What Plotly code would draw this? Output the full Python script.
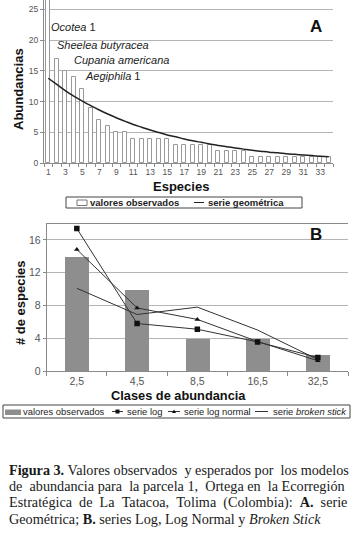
import plotly.graph_objects as go

# ---------------- data ----------------
# Panel A
species = [str(i) for i in range(1, 35)]
observed_A = [40, 17, 15, 14, 12, 9, 7, 6, 5, 5,
              4, 4, 4, 4, 4, 3, 3, 3, 3, 3,
              2, 2, 2, 2, 1, 1, 1, 1, 1, 1,
              1, 1, 1, 1]
geometric_A = [13.8, 12.8, 11.8, 10.9, 10.1, 9.35, 8.65, 8.0, 7.4, 6.85,
               6.3, 5.85, 5.4, 5.0, 4.6, 4.3, 3.95, 3.65, 3.4, 3.15,
               2.9, 2.7, 2.5, 2.3, 2.1, 1.95, 1.8, 1.7, 1.55, 1.45,
               1.35, 1.25, 1.15, 1.07]
tick_text_A = [s if int(s) % 2 == 1 else "" for s in species]

# Panel B
classes_B = ["2,5", "4,5", "8,5", "16,5", "32,5"]
observed_B = [14, 10, 4, 4, 2]
log_B = [17.4, 5.8, 5.1, 3.55, 1.65]
lognormal_B = [14.85, 7.7, 6.3, 3.6, 1.25]
brokenstick_B = [10.1, 6.9, 7.8, 5.0, 1.4]

W, H = 356, 539
FONT = "Liberation Sans, Arial, sans-serif"
SERIF = "Liberation Serif, Times New Roman, serif"


def X(px):
    return px / W


def Y(py):
    return 1 - py / H


fig = go.Figure()

# ---- Panel A traces ----
fig.add_trace(go.Bar(x=species, y=observed_A, width=0.5,
                     marker=dict(color="white", line=dict(color="#999999", width=1)),
                     name="valores observados", xaxis="x", yaxis="y", showlegend=False))
fig.add_trace(go.Scatter(x=species, y=geometric_A, mode="lines", line_shape="spline",
                         line=dict(color="#222222", width=1.5),
                         name="serie geométrica", xaxis="x", yaxis="y", showlegend=False))

# ---- Panel B traces ----
fig.add_trace(go.Bar(x=classes_B, y=observed_B, width=0.4,
                     marker=dict(color="#8e8e8e", line=dict(width=0)),
                     name="valores observados", xaxis="x2", yaxis="y2", showlegend=False))
fig.add_trace(go.Scatter(x=classes_B, y=brokenstick_B, mode="lines",
                         line=dict(color="#333333", width=1),
                         name="serie broken stick", xaxis="x2", yaxis="y2", showlegend=False))
fig.add_trace(go.Scatter(x=classes_B, y=lognormal_B, mode="lines+markers",
                         line=dict(color="#333333", width=1),
                         marker=dict(symbol="triangle-up", size=5, color="#111111"),
                         name="serie log normal", xaxis="x2", yaxis="y2", showlegend=False))
fig.add_trace(go.Scatter(x=classes_B, y=log_B, mode="lines+markers",
                         line=dict(color="#333333", width=1),
                         marker=dict(symbol="square", size=5.5, color="#111111"),
                         name="serie log", xaxis="x2", yaxis="y2", showlegend=False))

axis_gray = "#8a8a8a"
grid_gray = "#b4b4b4"
tick_gray = "#555555"

fig.update_layout(
    width=W, height=H,
    margin=dict(l=0, r=0, t=0, b=0, autoexpand=False),
    paper_bgcolor="white", plot_bgcolor="white",
    font=dict(family=FONT, color="#222222"),
    showlegend=False,
    bargap=0,
    xaxis=dict(domain=[X(44), X(333)], type="category", automargin=False,
               tickmode="array", tickvals=species, ticktext=tick_text_A, tickangle=0,
               tickson="boundaries", ticks="outside", ticklen=3, tickcolor=axis_gray,
               showline=True, linecolor=axis_gray, linewidth=1,
               showgrid=False, zeroline=False,
               tickfont=dict(size=8.5, color=tick_gray, family=FONT)),
    yaxis=dict(domain=[Y(163.3), 1.0], range=[0, 26.5], dtick=5, tick0=0, automargin=False,
               ticks="outside", ticklen=3, tickcolor=axis_gray,
               showline=True, linecolor=axis_gray, linewidth=1,
               showgrid=True, gridcolor=grid_gray, gridwidth=1, zeroline=False,
               tickfont=dict(size=8.5, color=tick_gray, family=FONT)),
    xaxis2=dict(domain=[X(46.7), X(348)], type="category", automargin=False, tickangle=0,
                tickson="boundaries", ticks="outside", ticklen=4, tickcolor=axis_gray,
                showline=True, linecolor=axis_gray, linewidth=1, mirror=True,
                showgrid=False, zeroline=False, anchor="y2",
                tickfont=dict(size=10.5, color=tick_gray, family=FONT)),
    yaxis2=dict(domain=[Y(371), Y(223.6)], range=[0, 18], dtick=4, tick0=0, automargin=False,
                ticks="outside", ticklen=3, tickcolor=axis_gray,
                showline=True, linecolor=axis_gray, linewidth=1,
                showgrid=True, gridcolor=grid_gray, gridwidth=1, zeroline=False,
                anchor="x2",
                tickfont=dict(size=10.5, color=tick_gray, family=FONT)),
)

ann = []


def text(px, py, s, size, xanchor="left", bold=False, italic=False, family=FONT,
         color="#222222", angle=0):
    if bold:
        s = "<b>" + s + "</b>"
    if italic:
        s = "<i>" + s + "</i>"
    ann.append(dict(x=X(px), y=Y(py), xref="paper", yref="paper", text=s,
                    showarrow=False, xanchor=xanchor, yanchor="middle",
                    textangle=angle, font=dict(size=size, family=family, color=color)))


# Panel A labels
text(316, 27, "A", 17, xanchor="center", bold=True, color="#111111")
text(49, 27, "<i>Ocotea</i> 1", 11)
text(55, 45, "<i>Sheelea butyracea</i>", 11)
text(72, 60, "<i>Cupania americana</i>", 11)
text(83, 76, "<i>Aegiphila</i> 1", 11)
text(180.5, 186, "Especies", 13, xanchor="center", bold=True, color="#111111")
text(18, 89, "Abundancias", 13, xanchor="center", bold=True, color="#111111", angle=-90)

# Panel B labels
text(316, 235, "B", 17, xanchor="center", bold=True, color="#111111")
text(178, 395, "Clases de abundancia", 12.8, xanchor="center", bold=True, color="#111111")
text(20, 303, "# de especies", 13, xanchor="center", bold=True, color="#111111", angle=-90)

shapes = []

# ---- Legend A (manual) ----
shapes.append(dict(type="rect", xref="paper", yref="paper",
                   x0=X(66), x1=X(302), y0=Y(208), y1=Y(197),
                   line=dict(color="#444444", width=1), fillcolor="rgba(0,0,0,0)"))
shapes.append(dict(type="rect", xref="paper", yref="paper",
                   x0=X(77), x1=X(87), y0=Y(205.5), y1=Y(200),
                   line=dict(color="#777777", width=1), fillcolor="white"))
text(88, 202.5, "valores observados", 9.5, bold=True)
shapes.append(dict(type="line", xref="paper", yref="paper",
                   x0=X(194), x1=X(204), y0=Y(202.5), y1=Y(202.5),
                   line=dict(color="#222222", width=1)))
text(206, 202.5, "serie geométrica", 9.5, bold=True)

# ---- Legend B (manual) ----
ly = 411.5
shapes.append(dict(type="rect", xref="paper", yref="paper",
                   x0=X(3), x1=X(350), y0=Y(418), y1=Y(405),
                   line=dict(color="#444444", width=1), fillcolor="rgba(0,0,0,0)"))
shapes.append(dict(type="rect", xref="paper", yref="paper",
                   x0=X(5), x1=X(21), y0=Y(415), y1=Y(409.5),
                   line=dict(width=0), fillcolor="#8e8e8e"))
text(21, ly, "valores observados", 9.4)
shapes.append(dict(type="line", xref="paper", yref="paper",
                   x0=X(112), x1=X(123), y0=Y(ly), y1=Y(ly),
                   line=dict(color="#333333", width=1)))
shapes.append(dict(type="rect", xref="paper", yref="paper",
                   x0=X(115.5), x1=X(119.5), y0=Y(ly + 2), y1=Y(ly - 2),
                   line=dict(width=0), fillcolor="#111111"))
text(125, ly, "serie log", 9.4)
shapes.append(dict(type="line", xref="paper", yref="paper",
                   x0=X(168), x1=X(180), y0=Y(ly), y1=Y(ly),
                   line=dict(color="#333333", width=1)))
shapes.append(dict(type="path", xref="paper", yref="paper",
                   path=f"M {X(172)} {Y(ly + 1.5)} L {X(176)} {Y(ly + 1.5)} L {X(174)} {Y(ly - 2)} Z",
                   line=dict(width=0), fillcolor="#111111"))
text(182, ly, "serie log normal", 9.4)
shapes.append(dict(type="line", xref="paper", yref="paper",
                   x0=X(255), x1=X(268), y0=Y(ly), y1=Y(ly),
                   line=dict(color="#333333", width=1)))
text(271, ly, "serie <i>broken stick</i>", 9.4)

# ---- Caption (approximately justified with non-breaking spaces) ----
N = "\u00a0"
caption = [
    f"<b>Figura 3.</b> Valores observados {N}y esperados por {N}los modelos",
    f"de {N}abundancia para {N}la parcela 1, {N}Ortega en {N}la Ecorregión",
    f"Estratégica {N}de {N}La {N}Tatacoa, {N}Tolima {N}(Colombia): {N}<b>A.</b> {N}serie",
    "Geométrica; <b>B.</b> series Log, Log Normal y <i>Broken Stick</i>",
]
for i, line in enumerate(caption):
    text(7, 470 + 16.3 * i, line, 14.2, family=SERIF, color="#1a1a1a")

fig.update_layout(annotations=ann, shapes=shapes)
fig.write_html("out.html", config={"displayModeBar": False},
               post_script="document.body.style.margin='0px';document.body.style.overflow='hidden';")
